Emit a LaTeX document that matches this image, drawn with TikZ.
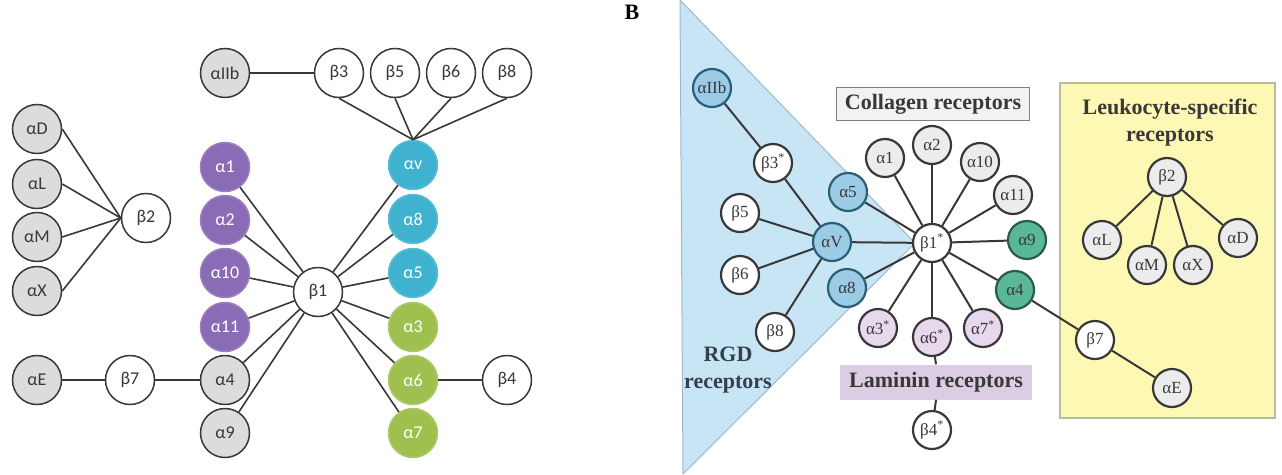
\documentclass[tikz,border=0pt]{standalone}
\usepackage{fontspec}
\setmainfont{Liberation Serif}
\newfontfamily\calfont{Carlito}
\definecolor{lgrey}{HTML}{DCDCDC}
\definecolor{lpurple}{HTML}{8A6BB5}
\definecolor{laqua}{HTML}{3FB2CF}
\definecolor{lgreen}{HTML}{9FBF4F}
\definecolor{ldark}{HTML}{383838}
\definecolor{bblue}{HTML}{9CCBE6}
\definecolor{bblueD}{HTML}{2A5F78}
\definecolor{bgreen}{HTML}{5AB898}
\definecolor{bgreenD}{HTML}{2B5A4A}
\definecolor{blav}{HTML}{E8D8EE}
\definecolor{bgreyf}{HTML}{ECECEC}
\definecolor{tri}{HTML}{C8E5F5}
\definecolor{triD}{HTML}{9FB8C8}
\definecolor{yel}{HTML}{FDF8B4}
\definecolor{yelD}{HTML}{B8BC98}
\definecolor{lamf}{HTML}{DCCCE4}
\definecolor{colf}{HTML}{F2F2F2}
\definecolor{rgdc}{HTML}{34404E}
\tikzset{
  lnode/.style={circle, minimum size=49pt, inner sep=0pt, line width=1.5pt,
    font=\calfont\fontsize{18}{18}\selectfont},
  lg/.style={lnode, draw=ldark, fill=lgrey, text=ldark},
  lw/.style={lnode, draw=ldark, fill=white, text=ldark},
  lp/.style={lnode, draw=lpurple!85!white, fill=lpurple, text=white},
  la/.style={lnode, draw=laqua!85!white, fill=laqua, text=white},
  lgr/.style={lnode, draw=lgreen!85!white, fill=lgreen, text=white},
  lline/.style={draw=ldark, line width=1.6pt},
  rnode/.style={circle, minimum size=38pt, inner sep=0pt, line width=2.2pt,
    font=\fontsize{17}{17}\selectfont, text=ldark},
  rw/.style={rnode, draw=ldark, fill=white},
  rg/.style={rnode, draw=ldark, fill=bgreyf},
  rb/.style={rnode, draw=bblueD, fill=bblue},
  rgr/.style={rnode, draw=bgreenD, fill=bgreen},
  rl/.style={rnode, draw=ldark, fill=blav},
  rline/.style={draw=ldark, line width=2pt},
  lab/.style={font=\bfseries\fontsize{22}{27}\selectfont, text=ldark, align=center}
}
\begin{document}
\begin{tikzpicture}[x=1pt,y=-1pt]
\useasboundingbox (0,0) rectangle (1282,474);
% ---------------- Panel A ----------------
\node[lg] (aIIb) at (225,73) {αIIb};
\node[lw] (b3) at (339,73) {β3};
\node[lw] (b5) at (395,73) {β5};
\node[lw] (b6) at (451,73) {β6};
\node[lw] (b8) at (507,73) {β8};
\node[lg] (aD) at (37,129) {αD};
\node[lg] (aL) at (37,184) {αL};
\node[lg] (aM) at (37,237) {αM};
\node[lg] (aX) at (37,291) {αX};
\node[lw] (b2) at (146,218) {β2};
\node[lp] (a1) at (225,167) {α1};
\node[lp] (a2) at (225,220) {α2};
\node[lp] (a10) at (225,273) {α10};
\node[lp] (a11) at (225,327) {α11};
\node[lg] (a4) at (225,380) {α4};
\node[lg] (a9) at (225,433) {α9};
\node[lg] (aE) at (37,380) {αE};
\node[lw] (b7) at (130,380) {β7};
\node[lw] (b1) at (318,292) {β1};
\node[la] (av) at (413,165) {αv};
\node[la] (a8) at (413,219) {α8};
\node[la] (a5) at (413,273) {α5};
\node[lgr] (a3) at (413,327) {α3};
\node[lgr] (a6) at (413,380) {α6};
\node[lgr] (a7) at (413,433) {α7};
\node[lw] (b4) at (507,380) {β4};
\draw[lline] (aIIb) -- (b3);
\foreach \n in {b3,b5,b6,b8} \draw[lline] (\n.south) -- (av.north);
\foreach \n in {aD,aL,aM,aX} \draw[lline] (\n.east) -- (b2.west);
\draw[lline] (aE) -- (b7) -- (a4);
\draw[lline] (a6) -- (b4);
\foreach \n in {a1,a2,a10,a11,a4,a9,av,a8,a5,a3,a6,a7} \draw[lline] (\n) -- (b1);
% ---------------- Panel B ----------------
\node[font=\bfseries\fontsize{22}{22}\selectfont, text=black] (B) at (632,12) {B};
\path[fill=tri, draw=triD, line width=1pt] (680,0) -- (915,243) -- (683,474) -- cycle;
\node[draw=yelD, fill=yel, line width=1.2pt, minimum width=215pt, minimum height=335pt, inner sep=0pt] (ybox) at (1167.5,250.5) {};
\node[lab] (leuk) at (1170,123) {Leukocyte-specific\\receptors};
\node[lab, draw=gray, fill=colf, line width=1.2pt, minimum width=193pt, minimum height=33pt, inner sep=0pt] (coll) at (933,104) {Collagen receptors};
\node[lab, fill=lamf, minimum width=192pt, minimum height=35pt, inner sep=0pt] (lam) at (936,382) {Laminin receptors};
\node[lab, text=rgdc] (rgd) at (728,370) {RGD\\receptors};
\node[rb] (BaIIb) at (712,88) {αIIb};
\node[rw] (Bb3) at (773,163) {β3\textsuperscript{*}};
\node[rb] (Ba5) at (848,192) {α5};
\node[rw] (Bb5) at (740,213) {β5};
\node[rb] (BaV) at (832,242) {αV};
\node[rw] (Bb6) at (740,275) {β6};
\node[rb] (Ba8) at (847,288) {α8};
\node[rw] (Bb8) at (775,332) {β8};
\node[rw] (Bb1) at (932,243) {β1\textsuperscript{*}};
\node[rg] (Ba1) at (885,158) {α1};
\node[rg] (Ba2) at (932,145) {α2};
\node[rg] (Ba10) at (980,162) {α10};
\node[rg] (Ba11) at (1013,195) {α11};
\node[rgr] (Ba9) at (1027,240) {α9};
\node[rgr] (Ba4) at (1015,290) {α4};
\node[rl] (Ba7) at (983,328) {α7\textsuperscript{*}};
\node[rl] (Ba6) at (932,337) {α6\textsuperscript{*}};
\node[rl] (Ba3) at (878,328) {α3\textsuperscript{*}};
\node[rw] (Bb4) at (932,430) {β4\textsuperscript{*}};
\node[rw] (Bb7) at (1095,340) {β7};
\node[rg] (BaE) at (1172,388) {αE};
\node[rg] (Bb2) at (1167,177) {β2};
\node[rg] (BaL) at (1102,240) {αL};
\node[rg] (BaM) at (1147,265) {αM};
\node[rg] (BaX) at (1193,265) {αX};
\node[rg] (BaD) at (1238,238) {αD};
\draw[rline] (BaIIb) -- (Bb3) -- (BaV);
\foreach \n in {Bb5,Bb6,Bb8} \draw[rline] (\n) -- (BaV);
\foreach \n in {Ba1,Ba2,Ba10,Ba11,Ba9,Ba4,Ba7,Ba6,Ba3,Ba8,BaV,Ba5} \draw[rline] (\n) -- (Bb1);
\draw[rline] (Ba6) -- (lam.north);
\draw[rline] (lam.south) -- (Bb4);
\draw[rline] (Ba4) -- (Bb7) -- (BaE);
\foreach \n in {BaL,BaM,BaX,BaD} \draw[rline] (Bb2) -- (\n);
\end{tikzpicture}
\end{document}
